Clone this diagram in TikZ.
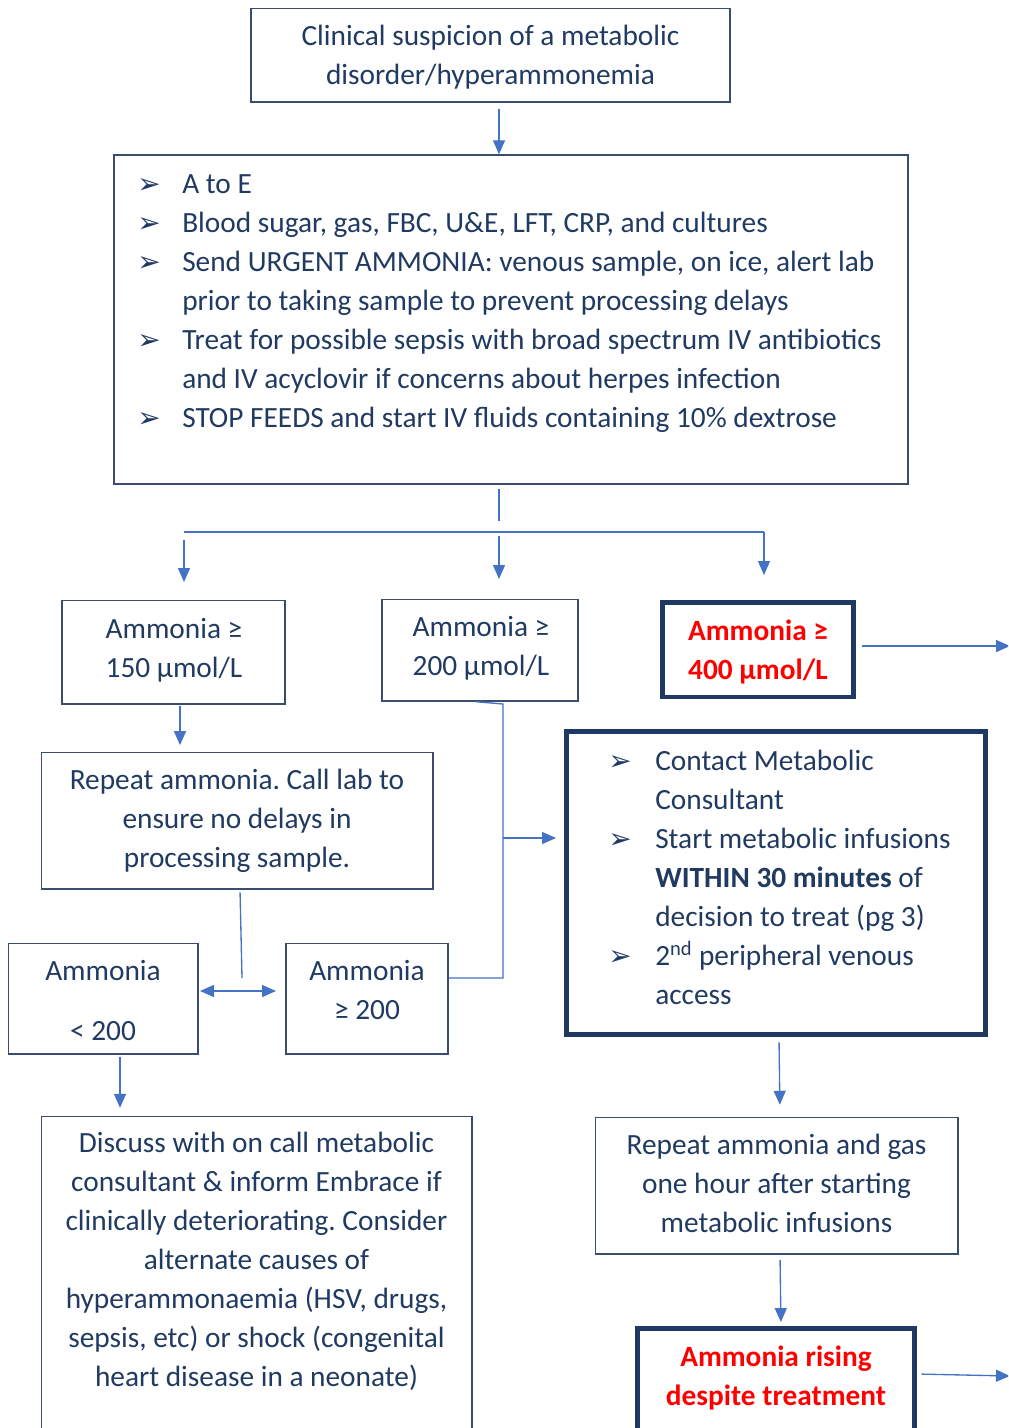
\documentclass[tikz,border=0pt]{standalone}
\usepackage{fontspec}
\setmainfont{Carlito}
\newfontfamily\dv{DejaVu Sans}
\usetikzlibrary{arrows.meta,fit,calc}
\frenchspacing
\definecolor{navy}{HTML}{1F3864}
\definecolor{txtc}{HTML}{203A62}
\definecolor{bord}{HTML}{3A4D6E}
\definecolor{arrblue}{HTML}{4472C4}
\definecolor{rd}{HTML}{FF0000}
\newcommand\fsz{\fontsize{22pt}{29.25pt}\selectfont\frenchspacing}
\newlength\bind
\newcommand\bglyph{{\dv\fontsize{21pt}{21pt}\selectfont\color{navy}➢}}
\newcommand\bl[1]{\par\noindent\makebox[\bind][l]{\bglyph}\strut #1}
\newcommand\cl[1]{\par\noindent\hspace*{\bind}\strut #1}
\begin{document}
\begin{tikzpicture}[x=0.75pt,y=-0.75pt,
  thinbox/.style={draw=bord, line width=1.1pt, inner sep=0pt},
  thickbox/.style={draw=navy, line width=3.7pt, inner sep=0pt},
  txt/.style={text=txtc, align=center, inner sep=0pt, font=\fsz},
  redtxt/.style={text=rd, align=center, inner sep=0pt, font=\fsz\bfseries},
  listtxt/.style={text=txtc, align=left, inner sep=0pt, font=\fsz, text width=640pt, anchor=west},
  ln/.style={draw=arrblue, line width=1pt},
  arr/.style={ln, -{Triangle[length=10.5pt,width=9pt]}},
  darr/.style={ln, {Triangle[length=10.5pt,width=9pt]}-{Triangle[length=10.5pt,width=9pt]}}
]
\useasboundingbox (0,0) rectangle (1008,1428);
\clip (0,0) rectangle (1008,1428);

% ---------- boxes ----------
\node[thinbox, fit={(251,8.5)(730,102)}] (top) {};
\node[txt] (topt) at (490.5,57.5) {\strut Clinical suspicion of a metabolic\\\strut disorder/hyperammonemia};

\node[thinbox, fit={(114,155)(908,484)}] (big1) {};
\node[listtxt] (big1t) at (137,297) {\spaceskip=0pt\xspaceskip=0pt\setlength\bind{33.75pt}%
  \bl{A to E}%
  \bl{Blood sugar, gas, FBC, U\&E, LFT, CRP, and cultures}%
  \bl{Send URGENT AMMONIA: venous sample, on ice, alert lab}%
  \cl{prior to taking sample to prevent processing delays}%
  \bl{Treat for possible sepsis with broad spectrum IV antibiotics}%
  \cl{and IV acyclovir if concerns about herpes infection}%
  \bl{STOP FEEDS and start IV fluids containing 10\% dextrose}};

\node[thinbox, fit={(62,600.5)(285,704)}] (a150) {};
\node[txt] (a150t) at (174,650) {\strut Ammonia ≥\\\strut 150 µmol/L};

\node[thinbox, fit={(382,599.5)(578,701)}] (a200) {};
\node[txt] (a200t) at (481,648.5) {\strut Ammonia ≥\\\strut 200 µmol/L};

\node[thickbox, fit={(662.5,602.5)(853.5,697)}] (a400) {};
\node[redtxt] (a400t) at (758,652) {\strut Ammonia ≥\\\strut 400 µmol/L};

\node[thinbox, fit={(41.5,752.5)(433,889)}] (rep) {};
\node[txt] (rept) at (237,820.5) {\strut Repeat ammonia. Call lab to\\\strut ensure no delays in\\\strut processing sample.};

\node[thickbox, fit={(566.5,731.5)(985.5,1034.5)}] (big2) {};
\node[listtxt] (big2t) at (608,873.5) {\spaceskip=0pt\xspaceskip=0pt\setlength\bind{35.25pt}%
  \bl{Contact Metabolic}%
  \cl{Consultant}%
  \bl{Start metabolic infusions}%
  \cl{\textbf{WITHIN 30 minutes} of}%
  \cl{decision to treat (pg 3)}%
  \bl{2\textsuperscript{nd} peripheral venous}%
  \cl{access}};

\node[thinbox, fit={(8.5,943.5)(198,1054)}] (lt) {};
\node[txt] (ltt) at (103,1003) {\strut Ammonia\\[15.75pt]\strut < 200};

\node[thinbox, fit={(286,943.5)(448,1054)}] (ge) {};
\node[txt] (get) at (367,992.5) {\strut Ammonia\\\strut ≥ 200};

\node[thinbox, fit={(595.5,1117.5)(958,1254)}] (rep2) {};
\node[txt] (rep2t) at (776.5,1185.7) {\strut Repeat ammonia and gas\\\strut one hour after starting\\\strut metabolic infusions};

\node[thickbox, fit={(637.5,1328.5)(914.5,1450)}] (rise) {};
\node[redtxt] (riset) at (776,1378.5) {\strut Ammonia rising\\\strut despite treatment};

\node[thinbox, fit={(41.5,1116.5)(472,1450)}] (disc) {};
\node[txt] (disct) at (256.5,1261.7) {\strut Discuss with on call metabolic\\\strut consultant \& inform Embrace if\\\strut clinically deteriorating. Consider\\\strut alternate causes of\\\strut hyperammonaemia (HSV, drugs,\\\strut sepsis, etc) or shock (congenital\\\strut heart disease in a neonate)};

% ---------- junction coordinates ----------
\coordinate (c1) at (499,0);
\coordinate (j1) at (499,521);
\coordinate (hl) at (184,532);
\coordinate (hr) at (764,532);
\coordinate (t150) at (184,582);
\coordinate (t200) at (499,579);
\coordinate (t400) at (764,575);
\coordinate (offR1) at (1010,646);
\coordinate (offR2) at (1010,1376);
\coordinate (v1) at (503,704);
\coordinate (v2) at (503,978);
\coordinate (vm) at (503,838);
\coordinate (r1) at (240,892);
\coordinate (r2) at (242,978);
\coordinate (dl) at (200,991);
\coordinate (dr) at (276,991);

% ---------- connectors ----------
\draw[arr, shorten <=4.5pt] (top.south -| c1) -- (big1.north -| c1);
\draw[ln, shorten <=3.5pt] (big1.south -| c1) -- (j1);
\draw[ln] (hl) -- (hr);
\draw[arr] ([yshift=-6pt]hl) -- (t150);
\draw[arr] ([yshift=-3pt]c1 |- hl) -- (t200);
\draw[arr] (hr) -- (t400);
\draw[arr, shorten <=4.5pt] (a400.east |- offR1) -- (offR1);
\draw[arr, shorten <=1pt, shorten >=5pt] (a150.south -| 180,0) -- (rep.north -| 180,0);
\draw[ln, shorten <=2pt] (rep.south -| r1) -- (r2);
\draw[darr] (dl) -- (dr);
\draw[ln] (a200.south -| 476,0) -- (v1) -- (v2) -- (ge.east |- v2);
\draw[arr, shorten >=6pt] (vm) -- (big2.west |- vm);
\draw[arr, shorten <=4pt, shorten >=9pt] (big2.south -| 779,0) -- (rep2.north -| 780,0);
\draw[arr, shorten <=4pt, shorten >=3pt] (rep2.south -| 780,0) -- (rise.north -| 781,0);
\draw[arr, shorten <=3.5pt] (rise.east |- 0,1374) -- (offR2);
\draw[arr, shorten <=1.5pt, shorten >=6pt] (lt.south -| 120,0) -- (disc.north -| 120,0);
\end{tikzpicture}
\end{document}
